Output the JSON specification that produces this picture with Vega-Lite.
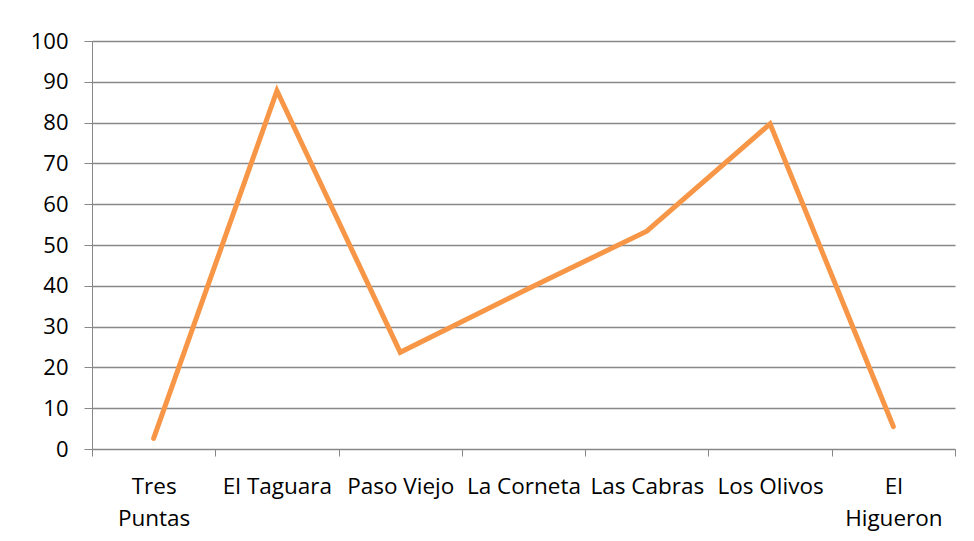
{
  "$schema": "https://vega.github.io/schema/vega-lite/v6.json",
  "width": 863,
  "height": 408,
  "autosize": {"type": "none"},
  "padding": {"left": 92, "top": 41, "right": 19, "bottom": 92},
  "background": "white",
  "config": {"view": {"stroke": null}},
  "data": {"values": [
    {"sitio": "Tres Puntas", "valor": 2.6},
    {"sitio": "El Taguara", "valor": 87.8},
    {"sitio": "Paso Viejo", "valor": 23.7},
    {"sitio": "La Corneta", "valor": 38.7},
    {"sitio": "Las Cabras", "valor": 53.4},
    {"sitio": "Los Olivos", "valor": 79.7},
    {"sitio": "El Higueron", "valor": 5.5}
  ]},
  "mark": {"type": "line", "color": "#F79646", "strokeWidth": 5, "strokeCap": "round", "strokeJoin": "miter"},
  "encoding": {
    "x": {
      "field": "sitio", "type": "nominal", "sort": null,
      "scale": {"type": "band", "paddingInner": 0, "paddingOuter": 0},
      "axis": {
        "title": null, "labelAngle": 0, "tickBand": "extent",
        "domainColor": "#888888", "tickColor": "#888888", "tickSize": 7,
        "labelFont": "Open Sans", "labelFontSize": 22.5, "labelColor": "#000000",
        "labelPadding": 19, "labelLineHeight": 32, "labelBaseline": "top",
        "labelExpr": "datum.value == 'Tres Puntas' ? ['Tres','Puntas'] : datum.value == 'El Higueron' ? ['El','Higueron'] : datum.value"
      }
    },
    "y": {
      "field": "valor", "type": "quantitative",
      "scale": {"domain": [0, 100], "nice": false},
      "axis": {
        "title": null, "values": [0,10,20,30,40,50,60,70,80,90,100],
        "grid": true, "gridColor": "#888888", "gridWidth": 1.3,
        "domainColor": "#888888", "tickColor": "#888888", "tickSize": 8,
        "labelFont": "Open Sans", "labelFontSize": 22, "labelColor": "#000000",
        "labelPadding": 16
      }
    }
  }
}
